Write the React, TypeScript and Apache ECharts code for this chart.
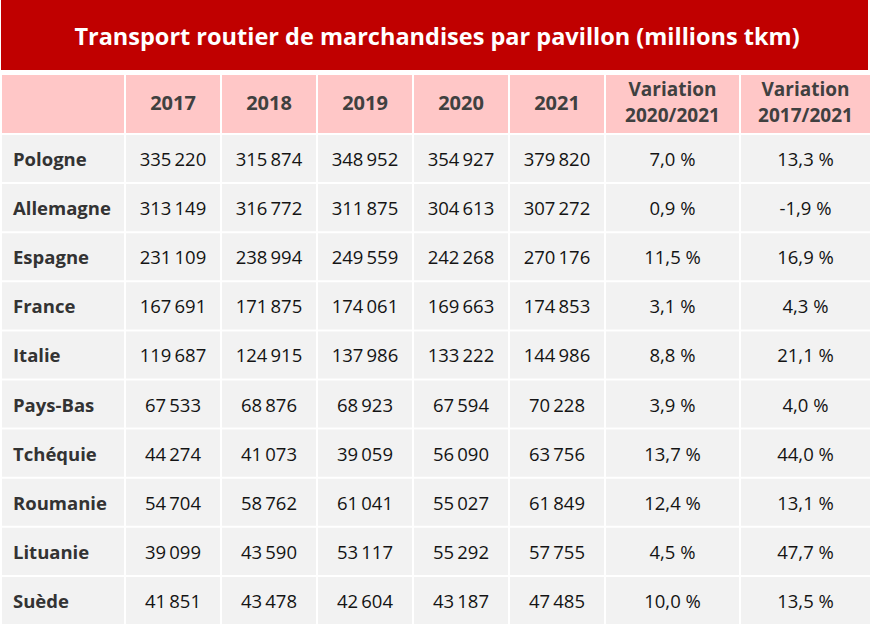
import React, { useEffect, useRef } from "react";
import * as echarts from "echarts";

const TITLE = "Transport routier de marchandises par pavillon (millions tkm)";
const countries = ["Pologne", "Allemagne", "Espagne", "France", "Italie", "Pays-Bas", "Tchéquie", "Roumanie", "Lituanie", "Suède"];
const years = ["2017", "2018", "2019", "2020", "2021"];
const varHeaders = ["Variation\n2020/2021", "Variation\n2017/2021"];

const values2017 = [335220, 313149, 231109, 167691, 119687, 67533, 44274, 54704, 39099, 41851];
const values2018 = [315874, 316772, 238994, 171875, 124915, 68876, 41073, 58762, 43590, 43478];
const values2019 = [348952, 311875, 249559, 174061, 137986, 68923, 39059, 61041, 53117, 42604];
const values2020 = [354927, 304613, 242268, 169663, 133222, 67594, 56090, 55027, 55292, 43187];
const values2021 = [379820, 307272, 270176, 174853, 144986, 70228, 63756, 61849, 57755, 47485];
const var2020_2021 = [7.0, 0.9, 11.5, 3.1, 8.8, 3.9, 13.7, 12.4, 4.5, 10.0];
const var2017_2021 = [13.3, -1.9, 16.9, 4.3, 21.1, 4.0, 44.0, 13.1, 47.7, 13.5];

// layout (not data)
const colWidths = [124, 96, 96, 96, 96, 96, 135, 131];
const headerH = 60;
const rowH = 49.1;
const GAP = 2;
const LINE_SPACING = 26;

const fmtNum = (n: number) => n.toString().replace(/\B(?=(\d{3})+(?!\d))/g, "\u2009");
const fmtPct = (v: number) => v.toFixed(1).replace(".", ",") + " %";

type Cell = { col: number; row: number; text: string; kind: string };

function buildCells(): Cell[] {
  const cells: Cell[] = [];
  const headers = ["", ...years, ...varHeaders];
  headers.forEach((h, c) => cells.push({ col: c, row: 0, text: h, kind: "header" }));
  const series = [values2017, values2018, values2019, values2020, values2021];
  countries.forEach((name, i) => {
    const r = i + 1;
    cells.push({ col: 0, row: r, text: name, kind: "label" });
    series.forEach((arr, k) => cells.push({ col: k + 1, row: r, text: fmtNum(arr[i]), kind: "data" }));
    cells.push({ col: 6, row: r, text: fmtPct(var2020_2021[i]), kind: "data" });
    cells.push({ col: 7, row: r, text: fmtPct(var2017_2021[i]), kind: "data" });
  });
  return cells;
}

export default function App() {
  const ref = useRef<HTMLDivElement>(null);
  useEffect(() => {
    if (!ref.current) return;
    const chart = echarts.init(ref.current, null, { renderer: "svg" });
    const cells = buildCells();
    const colStart: number[] = [];
    let acc = 0;
    colWidths.forEach((w) => { colStart.push(acc); acc += w; });
    const totalW = acc;
    const rowStart: number[] = [0];
    for (let i = 0; i < countries.length; i++) rowStart.push(headerH + i * rowH);
    const totalH = headerH + countries.length * rowH;
    const rowHeight = (r: number) => (r === 0 ? headerH : rowH);

    const renderItem = (params: any, api: any) => {
      const cell = cells[params.dataIndex];
      const c = api.value(0);
      const r = api.value(1);
      const x0 = colStart[c];
      const y0 = rowStart[r];
      const p0 = api.coord([x0, y0]);
      const p1 = api.coord([x0 + colWidths[c], y0 + rowHeight(r)]);
      const w = p1[0] - p0[0] - GAP;
      const h = p1[1] - p0[1] - GAP;
      const fill = cell.kind === "header" ? "#ffc7c7" : "#f2f2f2";
      const children: any[] = [
        { type: "rect", shape: { x: p0[0], y: p0[1], width: w, height: h }, style: { fill } },
      ];
      if (cell.text) {
        const isLabel = cell.kind === "label";
        const isHeader = cell.kind === "header";
        const lines = cell.text.split("\n");
        const multi = lines.length > 1;
        const cy = p0[1] + h / 2 + (isHeader ? -2 : 0);
        lines.forEach((line, li) => {
          children.push({
            type: "text",
            style: {
              text: line,
              x: isLabel ? p0[0] + 11 : p0[0] + w / 2,
              y: cy + (li - (lines.length - 1) / 2) * LINE_SPACING,
              align: isLabel ? "left" : "center",
              verticalAlign: "middle",
              textAlign: isLabel ? "left" : "center",
              textVerticalAlign: "middle",
              fill: isHeader ? "#404040" : isLabel ? "#333333" : "#141414",
              fontFamily: "Open Sans",
              fontSize: isHeader ? (multi ? 19 : 20) : 18.5,
              fontWeight: isHeader || isLabel ? "bold" : "normal",
            },
          });
        });
      }
      return { type: "group", children };
    };

    chart.setOption({
      animation: false,
      backgroundColor: "#ffffff",
      title: {
        text: TITLE,
        left: "center",
        top: 19,
        textStyle: { color: "#ffffff", fontFamily: "Open Sans", fontWeight: "bold", fontSize: 23.5 },
      },
      graphic: [
        { type: "rect", z: -1, shape: { x: 1, y: 0, width: 867, height: 70 }, style: { fill: "#c00000" } },
      ],
      grid: { left: 2, top: 75, width: totalW, height: totalH },
      xAxis: { type: "value", min: 0, max: totalW, show: false },
      yAxis: { type: "value", min: 0, max: totalH, inverse: true, show: false },
      series: [
        {
          type: "custom",
          clip: false,
          renderItem,
          data: cells.map((c) => [c.col, c.row]),
        },
      ],
    });
    return () => chart.dispose();
  }, []);
  return <div ref={ref} style={{ width: 874, height: 629, position: "absolute", left: 0, top: 0 }} />;
}
